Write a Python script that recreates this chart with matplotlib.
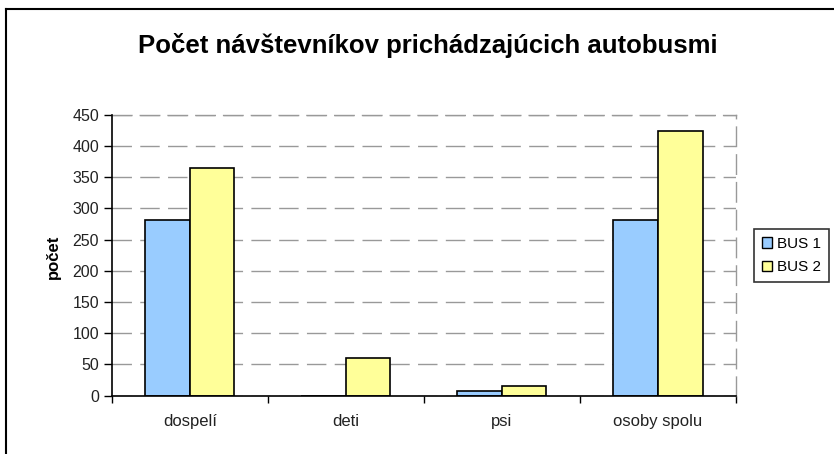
import matplotlib
matplotlib.use("Agg")
import matplotlib.pyplot as plt
from matplotlib.lines import Line2D
from matplotlib.patches import Patch
import numpy as np

categories = ["dospelí", "deti", "psi", "osoby spolu"]
bus1 = [282, 0, 8, 282]
bus2 = [364, 60, 15, 424]
series_names = ["BUS 1", "BUS 2"]
yticks = [0, 50, 100, 150, 200, 250, 300, 350, 400, 450]

plt.rcParams['font.family'] = ['Liberation Sans', 'DejaVu Sans']

W, H = 834, 454
fig = plt.figure(figsize=(W / 100, H / 100), dpi=100)
fig.patch.set_facecolor('white')

# axes in pixel coordinates
left, right, top, bottom = 111.7, 736, 114.7, 395.7
ax = fig.add_axes([left / W, 1 - bottom / H, (right - left) / W, (bottom - top) / H])

x = np.arange(len(categories))
bw = 1 / 3.5
ax.bar(x - bw / 2, bus1, bw, color='#99CCFF', edgecolor='black', linewidth=1.2, label=series_names[0], zorder=3)
ax.bar(x + bw / 2, bus2, bw, color='#FFFF99', edgecolor='black', linewidth=1.2, label=series_names[1], zorder=3)

dash = (0, (14, 6))
ax.set_xlim(-0.5, len(categories) - 0.5)
ax.set_ylim(0, 450)
ax.set_yticks(yticks)
ax.set_yticklabels([str(v) for v in yticks], fontsize=11.5, color='#222222')
ax.yaxis.grid(True, color='#999999', linestyle=dash, linewidth=1, zorder=0)

ax.set_xticks(x)
ax.set_xticklabels(categories, fontsize=12, color='#222222')
ax.tick_params(axis='x', length=0, pad=13)
ax.set_xticks(np.arange(len(categories) + 1) - 0.5, minor=True)
ax.tick_params(axis='x', which='minor', length=5, width=1, direction='out', color='black')
ax.tick_params(axis='y', length=6, width=1, direction='out', color='black', pad=3)

for s in ['top', 'right']:
    ax.spines[s].set_color('#999999')
    ax.spines[s].set_linestyle(dash)
    ax.spines[s].set_linewidth(1)
for s in ['left', 'bottom']:
    ax.spines[s].set_color('black')
    ax.spines[s].set_linewidth(1.2)
    ax.spines[s].set_zorder(4)

fig.text(53 / W, 1 - 257 / H, "počet", rotation=90, ha='center', va='center',
         fontsize=12, fontweight='bold')

fig.text(428 / W, 1 - 46 / H, "Počet návštevníkov prichádzajúcich autobusmi",
         ha='center', va='center', fontsize=18.5, fontweight='bold')

handles = [Patch(facecolor='#99CCFF', edgecolor='black', linewidth=1),
           Patch(facecolor='#FFFF99', edgecolor='black', linewidth=1)]
leg = fig.legend(handles, series_names, loc='center', bbox_to_anchor=(791.5 / W, 1 - 255.5 / H),
                 fontsize=11, frameon=True, fancybox=False, edgecolor='black',
                 handlelength=0.65, handleheight=0.65, handletextpad=0.35,
                 borderpad=0.5, labelspacing=0.6, borderaxespad=0)
leg.get_frame().set_linewidth(1.2)

# outer chart-area border (top and left visible)
fig.add_artist(Line2D([6 / W, 1], [1 - 9 / H, 1 - 9 / H], color='black', linewidth=1.5))
fig.add_artist(Line2D([6 / W, 6 / W], [0, 1 - 9 / H], color='black', linewidth=1.5))

fig.savefig("out.png", dpi=100)
